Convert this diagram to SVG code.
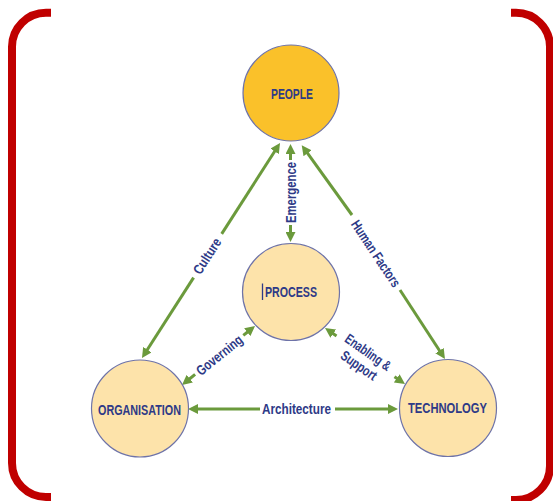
<svg xmlns="http://www.w3.org/2000/svg" width="553" height="501" viewBox="0 0 553 501">
  <defs>
    <marker id="arrow" markerUnits="userSpaceOnUse" markerWidth="10" markerHeight="10" refX="2" refY="5" orient="auto-start-reverse">
      <path d="M0,0 L10,5 L0,10 z" fill="#6B9A3C"/>
    </marker>
    <style>
      .frame { fill: none; stroke: #C00000; stroke-width: 8; }
      .node-main { fill: #FAC12A; stroke: #6E73A8; stroke-width: 1.2; }
      .node { fill: #FDE3AA; stroke: #6E73A8; stroke-width: 1.2; }
      .label { font-family: "Liberation Sans Narrow", "Liberation Sans", Arial, sans-serif; font-weight: bold; font-size: 14px; fill: #2E3A87; text-anchor: middle; }
      .edge { stroke: #6B9A3C; stroke-width: 3; fill: none; }
      .edge-label { font-family: "Liberation Sans Narrow", "Liberation Sans", Arial, sans-serif; font-weight: bold; font-size: 14px; fill: #2E3A87; text-anchor: middle; }
    </style>
  </defs>

  <rect width="553" height="501" fill="#FFFFFF"/>

  <!-- red brackets -->
  <path class="frame" d="M51,12.8 L46,12.8 A34,34 0 0 0 12,46.8 L12,463 A34,34 0 0 0 46,497 L51,497"/>
  <path class="frame" d="M511,12.8 L516,12.8 A34,34 0 0 1 550,46.8 L550,466 A34,34 0 0 1 516,500 L511,500"/>

  <!-- connectors -->
  <g id="connectors">
    <!-- Culture -->
    <line class="edge" x1="275.7" y1="149.7" x2="221.7" y2="233.9" marker-start="url(#arrow)"/>
    <line class="edge" x1="193.6" y1="277.6" x2="146.3" y2="351.3" marker-end="url(#arrow)"/>
    <text class="edge-label" transform="translate(207,256) rotate(-57.3)" y="5" textLength="40" lengthAdjust="spacingAndGlyphs">Culture</text>

    <!-- Emergence -->
    <line class="edge" x1="290.5" y1="152" x2="290.5" y2="160" marker-start="url(#arrow)"/>
    <line class="edge" x1="290.5" y1="225" x2="290.5" y2="234" marker-end="url(#arrow)"/>
    <text class="edge-label" transform="translate(290.5,192.5) rotate(-90)" y="5" textLength="61" lengthAdjust="spacingAndGlyphs">Emergence</text>

    <!-- Human Factors -->
    <line class="edge" x1="306.4" y1="151.7" x2="352" y2="215" marker-start="url(#arrow)"/>
    <line class="edge" x1="400" y1="290" x2="440.6" y2="352.3" marker-end="url(#arrow)"/>
    <text class="edge-label" transform="translate(376,253.5) rotate(56.25)" y="5" textLength="77" lengthAdjust="spacingAndGlyphs">Human Factors</text>

    <!-- Governing -->
    <line class="edge" x1="248.8" y1="331" x2="243.3" y2="335.4" marker-start="url(#arrow)"/>
    <line class="edge" x1="195.1" y1="374.4" x2="188.2" y2="380" marker-end="url(#arrow)"/>
    <text class="edge-label" transform="translate(219.2,355) rotate(-38.9)" y="5" textLength="55" lengthAdjust="spacingAndGlyphs">Governing</text>

    <!-- Enabling & Support -->
    <line class="edge" x1="331.6" y1="332.6" x2="336.5" y2="336" marker-start="url(#arrow)"/>
    <line class="edge" x1="394.5" y1="376.7" x2="398.4" y2="379.4" marker-end="url(#arrow)"/>
    <g transform="translate(363.5,359) rotate(35)">
      <text class="edge-label" y="-3.3" textLength="53" lengthAdjust="spacingAndGlyphs">Enabling &amp;</text>
      <text class="edge-label" y="12.7" textLength="41" lengthAdjust="spacingAndGlyphs">Support</text>
    </g>

    <!-- Architecture -->
    <line class="edge" x1="196" y1="409" x2="260" y2="409" marker-start="url(#arrow)"/>
    <line class="edge" x1="335" y1="409" x2="390" y2="409" marker-end="url(#arrow)"/>
    <text class="edge-label" x="296.5" y="414" textLength="69" lengthAdjust="spacingAndGlyphs">Architecture</text>
  </g>

  <!-- nodes -->
  <g id="people">
    <circle class="node-main" cx="291" cy="93" r="48"/>
    <text class="label" x="292" y="99" textLength="42" lengthAdjust="spacingAndGlyphs">PEOPLE</text>
  </g>
  <g id="process">
    <circle class="node" cx="291" cy="292" r="48.5"/>
    <text class="label" x="291" y="297" textLength="52" lengthAdjust="spacingAndGlyphs">PROCESS</text>
    <line x1="262.5" y1="283.5" x2="262.5" y2="300" stroke="#2E3A87" stroke-width="1.3"/>
  </g>
  <g id="organisation">
    <circle class="node" cx="140" cy="408.5" r="48.5"/>
    <text class="label" x="139.5" y="415" textLength="83" lengthAdjust="spacingAndGlyphs">ORGANISATION</text>
  </g>
  <g id="technology">
    <circle class="node" cx="448" cy="408" r="48.5"/>
    <text class="label" x="447.5" y="413" textLength="79" lengthAdjust="spacingAndGlyphs">TECHNOLOGY</text>
  </g>
</svg>
